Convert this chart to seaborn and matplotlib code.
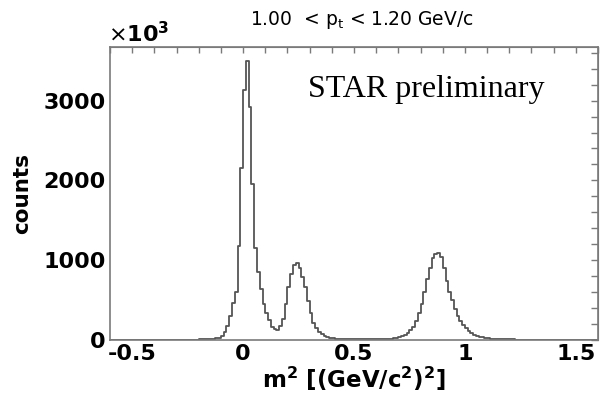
import numpy as np
import pandas as pd
import matplotlib
matplotlib.use("Agg")
import matplotlib.pyplot as plt
from matplotlib.ticker import MultipleLocator, FixedLocator, NullFormatter
import seaborn as sns

# Histogram binning in m^2 [(GeV/c^2)^2]
m2_min, m2_max, n_bins = -0.6, 1.6, 176

# Counts per bin (bin width 0.0125), left to right
counts = [
    # -0.6 .. -0.2125
    0, 0, 0, 0, 0, 0, 0, 0, 0, 0, 0, 0, 0, 0, 0, 0,
    0, 0, 0, 0, 0, 0, 0, 0, 0, 0, 0, 0, 0, 0, 0, 0,
    # -0.2 .. -0.1125
    1, 2, 3, 4, 6, 9, 14, 25,
    # -0.1 .. -0.0125
    50, 90, 170, 300, 460, 600, 1170, 2150,
    # 0 .. 0.0875  (pion peak)
    3140, 3500, 2920, 1960, 1150, 850, 640, 450,
    # 0.1 .. 0.1875
    330, 240, 160, 130, 125, 170, 260, 450,
    # 0.2 .. 0.2875  (kaon peak)
    660, 820, 940, 960, 900, 790, 660, 480,
    # 0.3 .. 0.3875
    330, 210, 150, 100, 65, 42, 30, 22,
    # 0.4 .. 0.4875
    16, 12, 10, 8, 6, 5, 4, 3,
    # 0.5 .. 0.5875
    3, 2, 2, 2, 2, 2, 2, 2,
    # 0.6 .. 0.6875
    3, 3, 4, 5, 7, 10, 14, 22,
    # 0.7 .. 0.7875
    32, 45, 60, 85, 120, 160, 230, 330,
    # 0.8 .. 0.8875  (proton peak)
    450, 600, 760, 900, 1020, 1070, 1090, 1040,
    # 0.9 .. 0.9875
    900, 740, 600, 500, 380, 300, 235, 180,
    # 1.0 .. 1.0875
    140, 105, 80, 60, 45, 35, 27, 20,
    # 1.1 .. 1.1875
    15, 12, 9, 7, 5, 4, 3, 2,
    # 1.2 .. 1.5875
    2, 1, 0, 0, 0, 0, 0, 0, 0, 0, 0, 0, 0, 0, 0, 0,
    0, 0, 0, 0, 0, 0, 0, 0, 0, 0, 0, 0, 0, 0, 0, 0,
]

x_major = [-0.5, 0, 0.5, 1, 1.5]
x_labels = ["-0.5", "0", "0.5", "1", "1.5"]
y_major = [0, 1000, 2000, 3000]
y_labels = ["0", "1000", "2000", "3000"]

title_text = "1.00  < p$_{\\rm t}$ < 1.20 GeV/c"
x_title = r"m$^\mathbf{2}$ [(GeV/c$^\mathbf{2}$)$^\mathbf{2}$]"
y_title = "counts"
exp_text = r"$\times\mathbf{10^{3}}$"
note_text = "STAR preliminary"

edges = np.linspace(m2_min, m2_max, n_bins + 1)
centers = 0.5 * (edges[:-1] + edges[1:])
df = pd.DataFrame({"m2": centers, "counts": counts})

sns.set_style("white")
plt.rcParams["font.family"] = ["DejaVu Sans"]
plt.rcParams["mathtext.fontset"] = "dejavusans"
plt.rcParams["text.color"] = "black"
plt.rcParams["axes.labelcolor"] = "black"
plt.rcParams["xtick.labelcolor"] = "black"
plt.rcParams["ytick.labelcolor"] = "black"

W, H = 602, 396
fig = plt.figure(figsize=(W / 100, H / 100), dpi=100)
fig.patch.set_facecolor("white")
ax = fig.add_axes([110 / W, 1 - 339.5 / H, (598 - 110) / W, (339.5 - 47) / H])

sns.histplot(data=df, x="m2", weights="counts", bins=n_bins,
             binrange=(m2_min, m2_max),
             element="step", fill=False, color="#555555",
             linewidth=1.3, ax=ax)

ax.set_xlim(m2_min, m2_max)
ax.set_ylim(0, 3675)

spine_col = "#7a7a7a"
for s in ax.spines.values():
    s.set_visible(True)
    s.set_color(spine_col)
    s.set_linewidth(1.2)

ax.xaxis.set_major_locator(FixedLocator(x_major))
ax.set_xticklabels(x_labels)
ax.xaxis.set_minor_locator(MultipleLocator(0.1))
ax.yaxis.set_major_locator(FixedLocator(y_major))
ax.set_yticklabels(y_labels)
ax.yaxis.set_minor_locator(MultipleLocator(200))

ax.tick_params(axis="x", which="major", direction="in", length=6.5, width=1.1,
               color=spine_col, pad=3, labelsize=16)
ax.tick_params(axis="x", which="minor", direction="in", length=3, width=1.0,
               color=spine_col)
ax.tick_params(axis="y", which="major", direction="in", length=10, width=1.1,
               color=spine_col, pad=3, labelsize=16)
ax.tick_params(axis="y", which="minor", direction="in", length=5, width=1.0,
               color=spine_col)
for lab in ax.get_xticklabels() + ax.get_yticklabels():
    lab.set_fontweight("bold")

# ticks along the top and right frame
top = ax.secondary_xaxis("top")
top.xaxis.set_major_locator(MultipleLocator(0.1))
top.xaxis.set_major_formatter(NullFormatter())
top.tick_params(direction="in", length=4.5, width=1.0, color=spine_col)
top.spines["top"].set_color(spine_col)
right = ax.secondary_yaxis("right")
right.yaxis.set_major_locator(MultipleLocator(200))
right.yaxis.set_major_formatter(NullFormatter())
right.tick_params(direction="in", length=5, width=1.0, color=spine_col)
right.spines["right"].set_color(spine_col)

ax.set_xlabel(x_title, fontsize=16.5, fontweight="bold", labelpad=1)
ax.set_ylabel(y_title, fontsize=15.5, fontweight="bold", labelpad=8)

fig.text(362 / W, 1 - 20 / H, title_text, ha="center", va="center",
         fontsize=13.5)
fig.text(108 / W, 1 - 34 / H, exp_text, ha="left", va="center",
         fontsize=16)
ax.text(0.648, 0.855, note_text, transform=ax.transAxes, ha="center",
        va="center", fontsize=23, family=["Liberation Serif"])

fig.savefig("out.png", dpi=100, facecolor="white")
